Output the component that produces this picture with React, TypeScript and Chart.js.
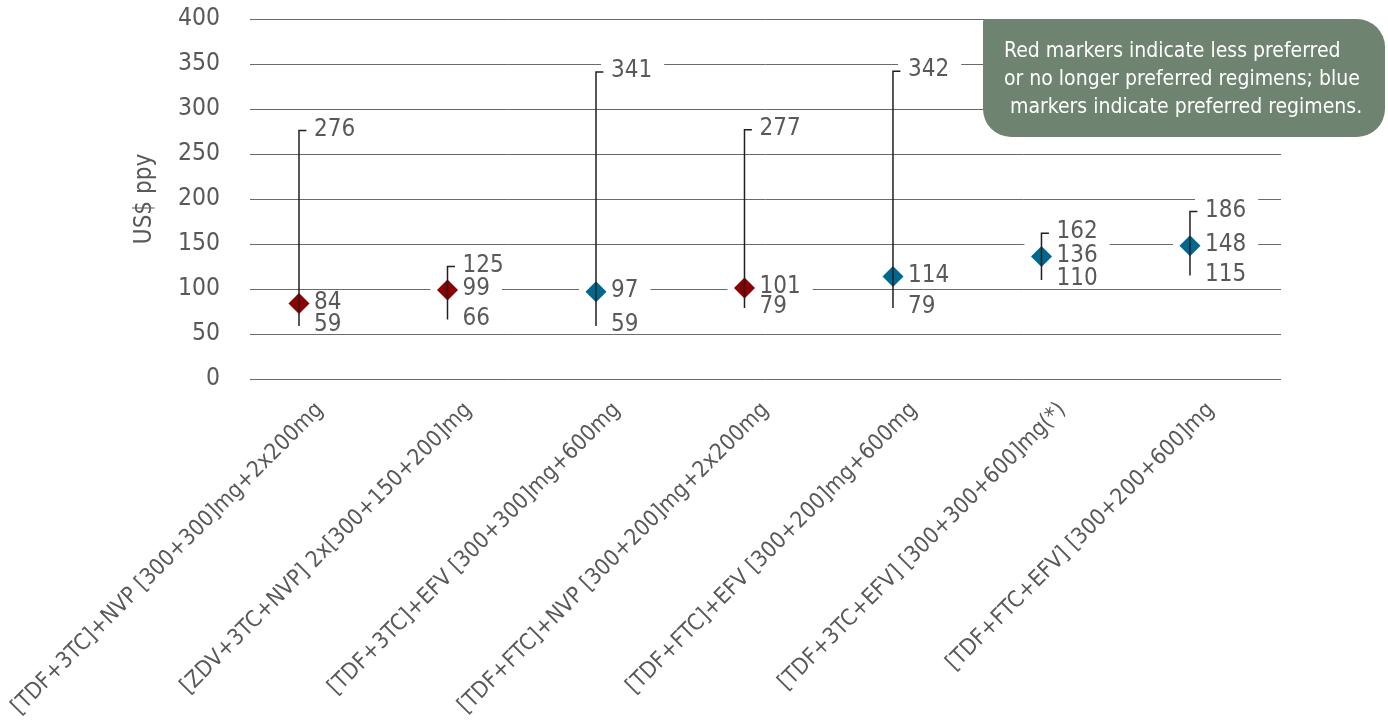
import React, { useEffect, useRef } from "react";
import { Chart, registerables } from "chart.js";

Chart.register(...registerables);

const CATEGORIES = [
  "[TDF+3TC]+NVP [300+300]mg+2x200mg",
  "[ZDV+3TC+NVP] 2x[300+150+200]mg",
  "[TDF+3TC]+EFV [300+300]mg+600mg",
  "[TDF+FTC]+NVP [300+200]mg+2x200mg",
  "[TDF+FTC]+EFV [300+200]mg+600mg",
  "[TDF+3TC+EFV] [300+300+600]mg(*)",
  "[TDF+FTC+EFV] [300+200+600]mg",
];
const HIGH = [276, 125, 341, 277, 342, 162, 186];
const MEDIAN = [84, 99, 97, 101, 114, 136, 148];
const LOW = [59, 66, 59, 79, 79, 110, 115];
const PREFERRED = [false, false, true, false, true, true, true];
const Y_MIN = 0;
const Y_MAX = 400;
const Y_STEP = 50;
const Y_TITLE = "US$ ppy";
const NOTE_LINES = [
  "Red markers indicate less preferred",
  "or no longer preferred regimens; blue",
  " markers indicate preferred regimens.",
];

const FONT = '"Liberation Sans Narrow", "DejaVu Sans Condensed", "Arial Narrow", "Liberation Sans", sans-serif';
const TEXT = "#595959";
const RED = "#8b0000";
const BLUE = "#00688f";
const LINE = "#231f20";
const GRID = "#6a6a6a";
const NOTE_BG = "#6f8470";
const VAL_SIZE = 24;
const TICK_DX = 0.05;

const labelPlugin = {
  id: "rangeLabels",
  beforeDatasetsDraw(chart: any) {
    const { ctx, scales } = chart;
    const x = scales.x;
    const y = scales.y;
    ctx.save();
    ctx.font = `${VAL_SIZE}px ${FONT}`;
    ctx.fillStyle = "#ffffff";
    for (let i = 0; i < CATEGORIES.length; i++) {
      const cx = x.getPixelForValue(i);
      const tx = cx + 15;
      [HIGH, MEDIAN, LOW].forEach((arr, k) => {
        const w = ctx.measureText(String(arr[i])).width;
        const cy = y.getPixelForValue(arr[i]) - 1;
        const left = k === 0 ? tx - 10 : cx - 17;
        ctx.fillRect(left, cy - 12, tx + w + 12 - left, 21);
      });
    }
    ctx.restore();
  },
  afterDatasetsDraw(chart: any) {
    const { ctx, scales } = chart;
    const x = scales.x;
    const y = scales.y;
    ctx.save();
    ctx.font = `${VAL_SIZE}px ${FONT}`;
    ctx.fillStyle = TEXT;
    ctx.textAlign = "left";
    ctx.textBaseline = "middle";
    for (let i = 0; i < CATEGORIES.length; i++) {
      const tx = x.getPixelForValue(i) + 15;
      [HIGH, MEDIAN, LOW].forEach((arr) => {
        ctx.fillText(String(arr[i]), tx, y.getPixelForValue(arr[i]) - 1);
      });
    }
    ctx.restore();
  },
  afterDraw(chart: any) {
    const { ctx } = chart;
    ctx.save();
    const bx = 983, by = 19, bw = 402, bh = 118;
    ctx.fillStyle = NOTE_BG;
    ctx.beginPath();
    (ctx as any).roundRect(bx, by, bw, bh, [3, 28, 28, 28]);
    ctx.fill();
    ctx.fillStyle = "#ffffff";
    ctx.font = `21px ${FONT}`;
    ctx.textAlign = "left";
    ctx.textBaseline = "middle";
    NOTE_LINES.forEach((line, k) => {
      ctx.fillText(line, 1004, 52 + k * 28);
    });
    ctx.restore();
  },
};

export default function App() {
  const ref = useRef<HTMLCanvasElement | null>(null);
  useEffect(() => {
    if (!ref.current) return;
    const rangeData: any[] = [];
    for (let i = 0; i < CATEGORIES.length; i++) {
      rangeData.push({ x: i, y: LOW[i] });
      rangeData.push({ x: i, y: HIGH[i] });
      rangeData.push({ x: i + TICK_DX, y: HIGH[i] });
      rangeData.push({ x: i, y: null });
    }
    const medianData = MEDIAN.map((v, i) => ({ x: i, y: v }));
    const chart = new Chart(ref.current, {
      type: "scatter",
      data: {
        datasets: [
          {
            label: "range",
            data: rangeData,
            showLine: true,
            borderColor: LINE,
            borderWidth: 1.5,
            pointRadius: 0,
            spanGaps: false,
            tension: 0,
          } as any,
          {
            label: "median",
            data: medianData,
            pointStyle: "rectRot",
            pointRadius: 10.5,
            pointHoverRadius: 10.5,
            backgroundColor: PREFERRED.map((p) => (p ? BLUE : RED)),
            borderWidth: 0,
          } as any,
        ],
      },
      options: {
        animation: false,
        responsive: false,
        layout: { padding: { top: 19, right: 107, bottom: 0, left: 0 } },
        plugins: { legend: { display: false }, tooltip: { enabled: false } },
        scales: {
          x: {
            type: "linear",
            min: -0.33,
            max: 6.613,
            grid: { display: false },
            border: { display: false },
            ticks: {
              stepSize: 1,
              autoSkip: false,
              includeBounds: false,
              minRotation: 45,
              maxRotation: 45,
              labelOffset: 21,
              padding: 10,
              color: TEXT,
              font: { family: FONT, size: 22.5 },
              callback: (v: any) => (Number.isInteger(v) && CATEGORIES[v] ? CATEGORIES[v] : ""),
            },
            afterFit: (scale: any) => {
              scale.height = 341;
              scale.paddingLeft = 0;
              scale.paddingRight = 0;
            },
          } as any,
          y: {
            min: Y_MIN,
            max: Y_MAX,
            grid: { color: GRID, lineWidth: 1, drawTicks: false },
            border: { display: false },
            ticks: {
              stepSize: Y_STEP,
              padding: 30,
              color: TEXT,
              font: { family: FONT, size: 24.5 },
            },
            title: {
              display: true,
              text: Y_TITLE,
              color: TEXT,
              font: { family: FONT, size: 24 },
              padding: { top: 130, bottom: 0 },
            },
            afterFit: (scale: any) => {
              scale.width = 250;
              scale.paddingTop = 0;
              scale.paddingBottom = 0;
            },
          } as any,
        },
      },
      plugins: [labelPlugin],
    });
    return () => chart.destroy();
  }, []);
  return (
    <div style={{ position: "fixed", left: 0, top: 0, width: 1388, height: 720, background: "#fff" }}>
      <canvas ref={ref} width={1388} height={720} />
    </div>
  );
}
